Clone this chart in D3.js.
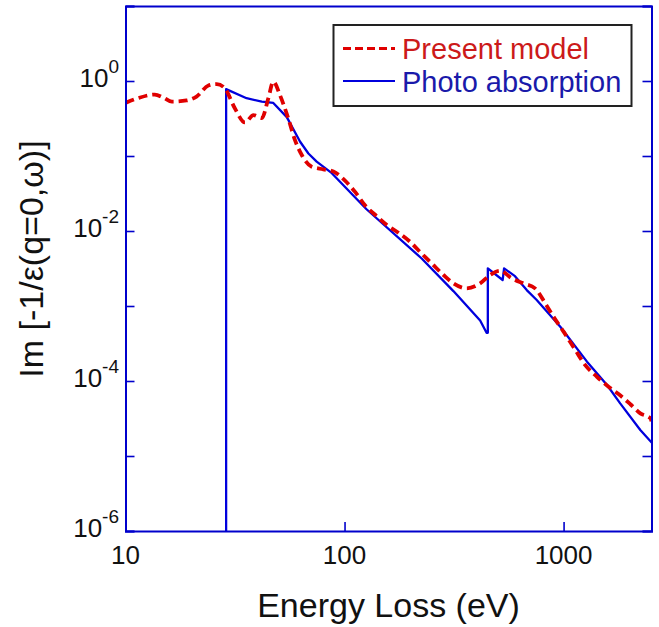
<!DOCTYPE html>
<html>
<head>
<meta charset="utf-8">
<script src="https://cdn.jsdelivr.net/npm/d3@7"></script>
<style>
  html, body { margin: 0; padding: 0; background: #fff; }
  svg { display: block; font-family: "Liberation Sans", Arial, Helvetica, sans-serif; }
</style>
</head>
<body>
<svg id="chart" width="659" height="627"></svg>
<script>
// ---- data ----
const presentE = [10, 11.4, 13.6, 14.9, 16.3, 19, 21.1, 23.9, 26.1, 28.4, 31.6, 35.1, 38.4, 41.9, 44.9, 47.3, 50.7, 55.3, 59.4, 63.8, 70.8, 80, 88.9, 102, 112, 124, 140, 156, 176, 199, 225, 250, 283, 314, 361, 416, 462, 513, 580, 656, 741, 824, 899, 1000, 1131, 1256, 1420, 1604, 1782, 2018, 2240, 2489, 2520];
const presentV = [0.51, 0.59, 0.66, 0.60, 0.53, 0.55, 0.62, 0.87, 0.91, 0.80, 0.43, 0.28, 0.35, 0.32, 0.59, 0.98, 0.65, 0.32, 0.163, 0.103, 0.072, 0.0665, 0.062, 0.045, 0.033, 0.022, 0.0158, 0.012, 0.0095, 0.0072, 0.005, 0.0037, 0.00259, 0.00201, 0.00172, 0.002, 0.0026, 0.00296, 0.00234, 0.002, 0.00172, 0.00109, 0.00072, 0.000455, 0.000259, 0.000163, 0.000114, 0.000084, 0.000067, 0.000049, 0.000037, 0.000032, 0.000029];

const photoE = [28.8, 28.8, 35.7, 41.9, 47.3, 54.5, 62.7, 68.4, 74.6, 87.5, 126, 225, 314, 416, 445, 451, 451, 527, 535, 600, 679, 754, 966, 1279, 1579, 1813, 2240, 2530];
const photoV = [1e-8, 0.78, 0.59, 0.53, 0.51, 0.33, 0.155, 0.108, 0.084, 0.059, 0.0195, 0.0043, 0.00158, 0.00064, 0.00044, 0.00044, 0.00318, 0.00222, 0.00318, 0.0025, 0.00163, 0.0012, 0.00053, 0.000181, 0.0000885, 0.0000504, 0.0000222, 0.000015];

const xDomain = [10, 2520];
const yDomain = [1e-6, 10];
const xTickValues = [10, 100, 1000];
const xTickLabels = ["10", "100", "1000"];
const yTickValues = [1e-6, 1e-5, 1e-4, 1e-3, 1e-2, 1e-1, 1, 10];
const yLabelExps = [0, -2, -4, -6];

const legendLabels = ["Present model", "Photo absorption"];

// ---- layout ----
const svg = d3.select("#chart");
const L = 125.5, R = 651.5, T = 6, B = 531;

const x = d3.scaleLog().domain(xDomain).range([L, R]);
const y = d3.scaleLog().domain(yDomain).range([B, T]);

const red = "#e00000", blue = "#0000dd", axisBlue = "#0000cc";

svg.append("defs").append("clipPath").attr("id", "clip")
  .append("rect").attr("x", L).attr("y", T).attr("width", R - L).attr("height", B - T);

// ---- curves ----
const line = d3.line().x(d => x(d[0])).y(d => y(d[1]));
const presentData = presentE.map((e, i) => [e, presentV[i]]);
const photoData = photoE.map((e, i) => [e, photoV[i]]);

const g = svg.append("g").attr("clip-path", "url(#clip)");
g.append("path").datum(photoData).attr("d", line)
  .attr("fill", "none").attr("stroke", blue).attr("stroke-width", 2.3)
  .attr("stroke-linejoin", "round");
g.append("path").datum(presentData).attr("d", d3.line().curve(d3.curveMonotoneX).x(d => x(d[0])).y(d => y(d[1])))
  .attr("fill", "none").attr("stroke", red).attr("stroke-width", 3.8)
  .attr("stroke-dasharray", "9,5").attr("stroke-linecap", "butt");

// ---- axes (ticks inward) ----
const axL = svg.append("g").attr("transform", `translate(${L},0)`)
  .call(d3.axisLeft(y).tickValues(yTickValues).tickSize(-9).tickFormat(""));
const axR = svg.append("g").attr("transform", `translate(${R},0)`)
  .call(d3.axisRight(y).tickValues(yTickValues).tickSize(-9).tickFormat(""));
const axB = svg.append("g").attr("transform", `translate(0,${B})`)
  .call(d3.axisBottom(x).tickValues(xTickValues).tickSize(-9).tickFormat(""));
const axT = svg.append("g").attr("transform", `translate(0,${T})`)
  .call(d3.axisTop(x).tickValues([]).tickSize(0).tickFormat(""));
[axL, axR, axB, axT].forEach(a => {
  a.selectAll("path.domain").attr("stroke", axisBlue).attr("stroke-width", 2);
  a.selectAll(".tick line").attr("stroke", axisBlue).attr("stroke-width", 1.6);
});

// y tick labels 10^n
const yl = svg.append("g").selectAll("text").data(yLabelExps).join("text")
  .attr("x", 119).attr("y", d => y(Math.pow(10, d)) + 6)
  .attr("text-anchor", "end").attr("fill", "#111").attr("font-size", 26);
yl.append("tspan").text("10");
yl.append("tspan").attr("dy", -14).attr("font-size", 19).text(d => String(d));

// x tick labels
svg.append("g").selectAll("text").data(xTickValues).join("text")
  .attr("x", d => x(d)).attr("y", 564).attr("text-anchor", "middle")
  .attr("fill", "#111").attr("font-size", 26)
  .text((d, i) => xTickLabels[i]);

// axis titles
svg.append("text").attr("x", (L + R) / 2).attr("y", 617).attr("text-anchor", "middle")
  .attr("font-size", 34).attr("fill", "#111").text("Energy Loss (eV)");
svg.append("text").attr("transform", "translate(43,259) rotate(-90)")
  .attr("text-anchor", "middle").attr("font-size", 34).attr("fill", "#111")
  .text("Im [-1/ε(q=0,ω)]");

// ---- legend ----
const lg = svg.append("g");
lg.append("rect").attr("x", 333.5).attr("y", 25).attr("width", 298).attr("height", 81)
  .attr("fill", "#fff").attr("stroke", "#222").attr("stroke-width", 2);
const legRows = [
  { label: legendLabels[0], stroke: red, dash: "8,4", w: 3.2, text: "#cc1a1a", ly: 48.5, ty: 59 },
  { label: legendLabels[1], stroke: blue, dash: null, w: 2.2, text: "#1a1aaa", ly: 81, ty: 91.5 }
];
legRows.forEach(r => {
  lg.append("line").attr("x1", 343).attr("x2", 395).attr("y1", r.ly).attr("y2", r.ly)
    .attr("stroke", r.stroke).attr("stroke-width", r.w).attr("stroke-dasharray", r.dash);
  lg.append("text").attr("x", 402).attr("y", r.ty).attr("font-size", 29)
    .attr("fill", r.text).text(r.label);
});
</script>
</body>
</html>
